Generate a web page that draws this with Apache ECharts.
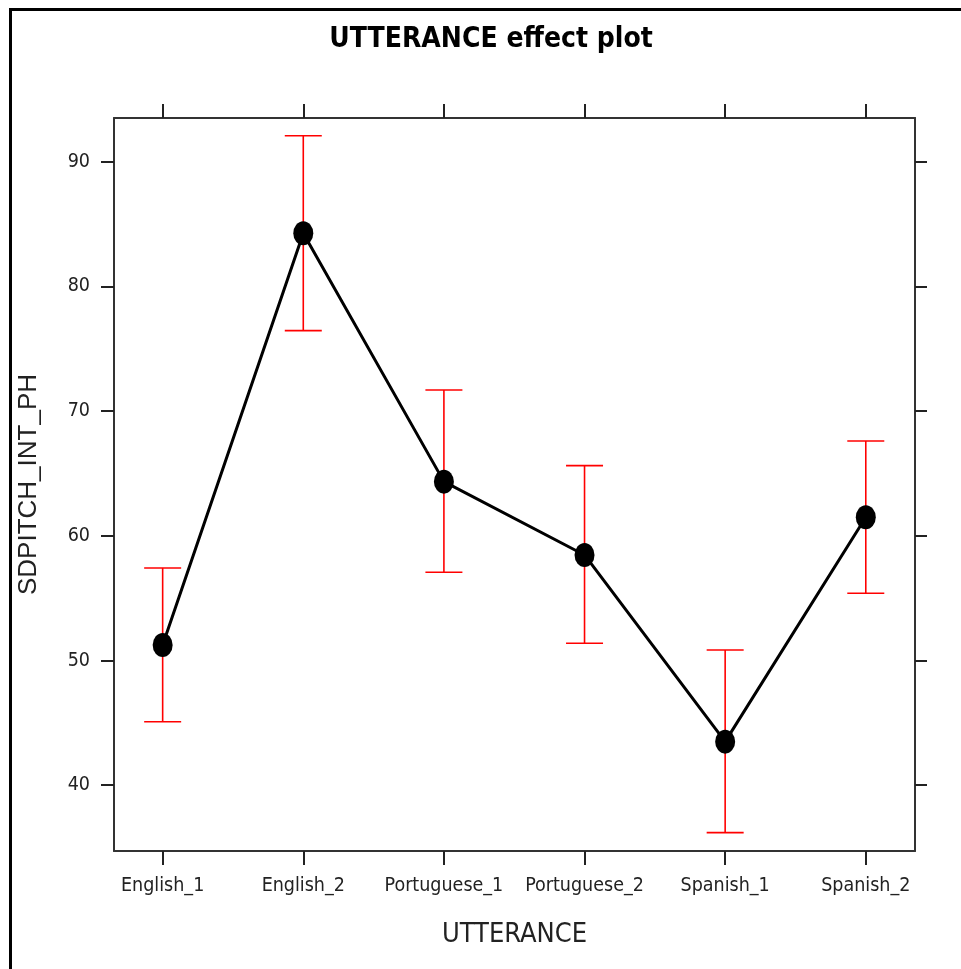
<!DOCTYPE html>
<html>
<head>
<meta charset="utf-8">
<script src="https://cdn.jsdelivr.net/npm/echarts@6/dist/echarts.min.js"></script>
<style>
  html, body { margin: 0; padding: 0; background: #fff; }
  #chart { width: 961px; height: 969px; }
</style>
</head>
<body>
<div id="chart"></div>
<script>
// Effect of UTTERANCE on SDPITCH_INT_PH: fitted values with confidence limits
const categories = ['English_1', 'English_2', 'Portuguese_1', 'Portuguese_2', 'Spanish_1', 'Spanish_2'];
const fitValues = [51.24, 84.26, 64.34, 58.46, 43.49, 61.48];
const lowerValues = [45.09, 76.45, 57.07, 51.38, 36.19, 55.39];
const upperValues = [57.42, 92.08, 71.69, 65.62, 50.84, 67.60];
const yTicks = [40, 50, 60, 70, 80, 90];

const narrowFont = "'Liberation Sans Narrow', 'DejaVu Sans Condensed', 'Liberation Sans', Arial, sans-serif";
const plainFont = "'Liberation Sans', Arial, sans-serif";

const xPositions = categories.map((c, i) => i + 1);
const xMin = 0.654, xMax = 6.35;
const yMin = 34.72, yMax = 93.5;

const fitData = categories.map((c, i) => [xPositions[i], fitValues[i]]);
const ciData = categories.map((c, i) => [xPositions[i], lowerValues[i], upperValues[i]]);

const frameColor = '#333';
const tickStyle = { color: '#222', width: 2 };

const chart = echarts.init(document.getElementById('chart'), null, { renderer: 'canvas' });

chart.setOption({
  backgroundColor: '#fff',
  animation: false,
  title: {
    text: 'UTTERANCE effect plot',
    left: 486,
    top: 21,
    textAlign: 'center',
    textStyle: { fontFamily: narrowFont, fontWeight: 'bold', fontSize: 28, color: '#000' }
  },
  graphic: [{
    type: 'rect',
    shape: { x: 10.5, y: 9.5, width: 1200, height: 1200 },
    style: { fill: 'none', stroke: '#000', lineWidth: 3 },
    silent: true
  }],
  grid: { left: 114, top: 118, right: 46, bottom: 118, outerBoundsMode: 'none' },
  xAxis: [{
    type: 'value', position: 'bottom', min: xMin, max: xMax,
    name: 'UTTERANCE', nameLocation: 'middle', nameGap: 70,
    nameTextStyle: { fontFamily: narrowFont, fontSize: 27, color: '#222' },
    axisLine: { onZero: false, lineStyle: { color: frameColor, width: 2 } },
    axisTick: { customValues: xPositions, length: 14, lineStyle: tickStyle },
    axisLabel: {
      customValues: xPositions, margin: 25,
      fontFamily: narrowFont, fontSize: 19.5, color: '#222',
      formatter: v => categories[Math.round(v) - 1] || ''
    },
    splitLine: { show: false }
  }, {
    type: 'value', position: 'top', min: xMin, max: xMax,
    axisLine: { onZero: false, lineStyle: { color: frameColor, width: 2 } },
    axisTick: { customValues: xPositions, length: 14, lineStyle: tickStyle },
    axisLabel: { show: false },
    splitLine: { show: false }
  }],
  yAxis: [{
    type: 'value', position: 'left', min: yMin, max: yMax,
    name: 'SDPITCH_INT_PH', nameLocation: 'middle', nameGap: 72, nameRotate: 90,
    nameTextStyle: { fontFamily: plainFont, fontSize: 26, color: '#222' },
    axisLine: { show: true, onZero: false, lineStyle: { color: frameColor, width: 2 } },
    axisTick: { customValues: yTicks, length: 13, lineStyle: tickStyle },
    axisLabel: { customValues: yTicks, margin: 24, fontFamily: narrowFont, fontSize: 19.5, color: '#222' },
    splitLine: { show: false }
  }, {
    type: 'value', position: 'right', min: yMin, max: yMax,
    axisLine: { show: true, onZero: false, lineStyle: { color: frameColor, width: 2 } },
    axisTick: { customValues: yTicks, length: 12, lineStyle: tickStyle },
    axisLabel: { show: false },
    splitLine: { show: false }
  }],
  series: [{
    type: 'custom',
    name: 'ci',
    xAxisIndex: 0, yAxisIndex: 0,
    z: 2,
    data: ciData,
    renderItem: function (params, api) {
      const lo = api.coord([api.value(0), api.value(1)]);
      const hi = api.coord([api.value(0), api.value(2)]);
      const half = 18.5;
      const style = { stroke: '#ff0000', lineWidth: 1.6 };
      return {
        type: 'group',
        children: [
          { type: 'line', shape: { x1: lo[0], y1: lo[1], x2: hi[0], y2: hi[1] }, style: style },
          { type: 'line', shape: { x1: lo[0] - half, y1: lo[1], x2: lo[0] + half, y2: lo[1] }, style: style },
          { type: 'line', shape: { x1: hi[0] - half, y1: hi[1], x2: hi[0] + half, y2: hi[1] }, style: style }
        ]
      };
    }
  }, {
    type: 'line',
    name: 'fit',
    xAxisIndex: 0, yAxisIndex: 0,
    z: 3,
    data: fitData,
    symbol: 'circle',
    symbolSize: [20, 24],
    itemStyle: { color: '#000' },
    lineStyle: { color: '#000', width: 3 }
  }]
});
</script>
</body>
</html>
